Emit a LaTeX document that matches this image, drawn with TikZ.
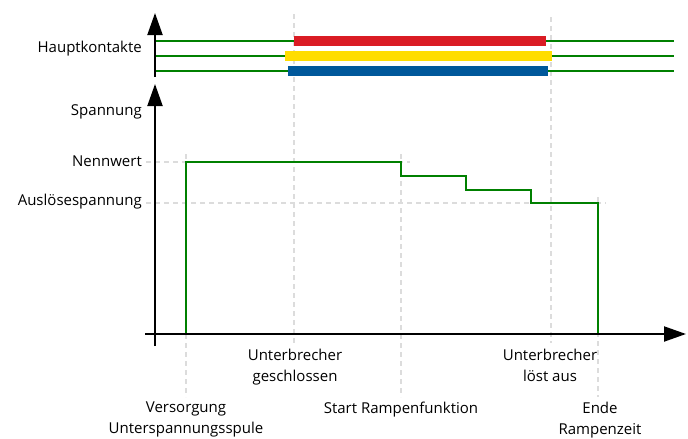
\documentclass[tikz,border=0pt]{standalone}
\usepackage{fontspec}
\setmainfont{Open Sans}
\usetikzlibrary{arrows.meta}
\definecolor{lgreen}{RGB}{0,128,0}
\definecolor{bred}{RGB}{218,28,36}
\definecolor{byellow}{RGB}{255,221,0}
\definecolor{bblue}{RGB}{0,88,155}
\definecolor{dgray}{RGB}{220,220,220}
\tikzset{
  axis/.style={line width=2pt,black,-{Triangle[length=22pt,width=15pt]}},
  sig/.style={line width=2pt,lgreen},
  bar/.style={line width=10pt},
  guide/.style={line width=1.6pt,dgray,dash pattern=on 5pt off 4pt},
  lbl/.style={font=\fontsize{15}{21}\selectfont,inner sep=0pt},
  rlbl/.style={lbl,anchor=base east},
  clbl/.style={lbl,align=center,anchor=north}
}
\begin{document}
\begin{tikzpicture}[x=1pt,y=-1pt]
\useasboundingbox (0,0) rectangle (688,439);
% guide lines
\draw[guide] (294,14) -- (294,345);
\draw[guide] (551,17) -- (551,343);
\draw[guide] (186,154) -- (186,397);
\draw[guide] (401,154) -- (401,397);
\draw[guide] (598,197) -- (598,397);
\draw[guide] (146,162) -- (410,162);
\draw[guide] (146,203) -- (606,203);
% coordinates
\coordinate (ta0) at (155,77);
\coordinate (ta1) at (155,13);
\coordinate (va0) at (155,346);
\coordinate (va1) at (155,84);
\coordinate (ha0) at (145,334);
\coordinate (ha1) at (686,334);
% contact lines
\coordinate (c1a) at (155,40.5);
\coordinate (c1b) at (294,40.5);
\coordinate (c1c) at (546,40.5);
\coordinate (c1d) at (674,40.5);
\coordinate (c2a) at (155,55.5);
\coordinate (c2b) at (285,55.5);
\coordinate (c2c) at (552,55.5);
\coordinate (c2d) at (674,55.5);
\coordinate (c3a) at (155,70.5);
\coordinate (c3b) at (288,70.5);
\coordinate (c3c) at (548,70.5);
\coordinate (c3d) at (674,70.5);
\draw[sig] (c1a) -- (c1b);
\draw[sig] (c1c) -- (c1d);
\draw[sig] (c2a) -- (c2b);
\draw[sig] (c2c) -- (c2d);
\draw[sig] (c3a) -- (c3b);
\draw[sig] (c3c) -- (c3d);
\draw[bar,bred] (c1b) -- (c1c);
\draw[bar,byellow] (c2b) -- (c2c);
\draw[bar,bblue] (c3b) -- (c3c);
% voltage curve
\coordinate (v0) at (186,334);
\coordinate (v1) at (186,162);
\coordinate (v2) at (401,162);
\coordinate (v3) at (401,176);
\coordinate (v4) at (466,176);
\coordinate (v5) at (466,190);
\coordinate (v6) at (531,190);
\coordinate (v7) at (531,203);
\coordinate (v8) at (598,203);
\coordinate (v9) at (598,334);
\draw[sig,line join=miter] (v0) -- (v1) -- (v2) -- (v3) -- (v4) -- (v5) -- (v6) -- (v7) -- (v8) -- (v9);
% axes
\draw[axis] (ta0) -- (ta1);
\draw[axis] (va0) -- (va1);
\draw[axis] (ha0) -- (ha1);
% labels
\node[rlbl] (hk) at (142,52) {Hauptkontakte};
\node[rlbl] (sp) at (142,115) {Spannung};
\node[rlbl] (nw) at (142,166) {Nennwert};
\node[rlbl] (as) at (142,205) {Auslösespannung};
\node[clbl] (ug) at (295,349) {Unterbrecher\\geschlossen};
\node[clbl] (ul) at (550,349) {Unterbrecher\\löst aus};
\node[clbl] (vu) at (186,402) {Versorgung\\Unterspannungsspule};
\node[clbl] (sr) at (401,402) {Start Rampenfunktion};
\node[clbl] (er) at (600,402) {Ende\\Rampenzeit};
\end{tikzpicture}
\end{document}
